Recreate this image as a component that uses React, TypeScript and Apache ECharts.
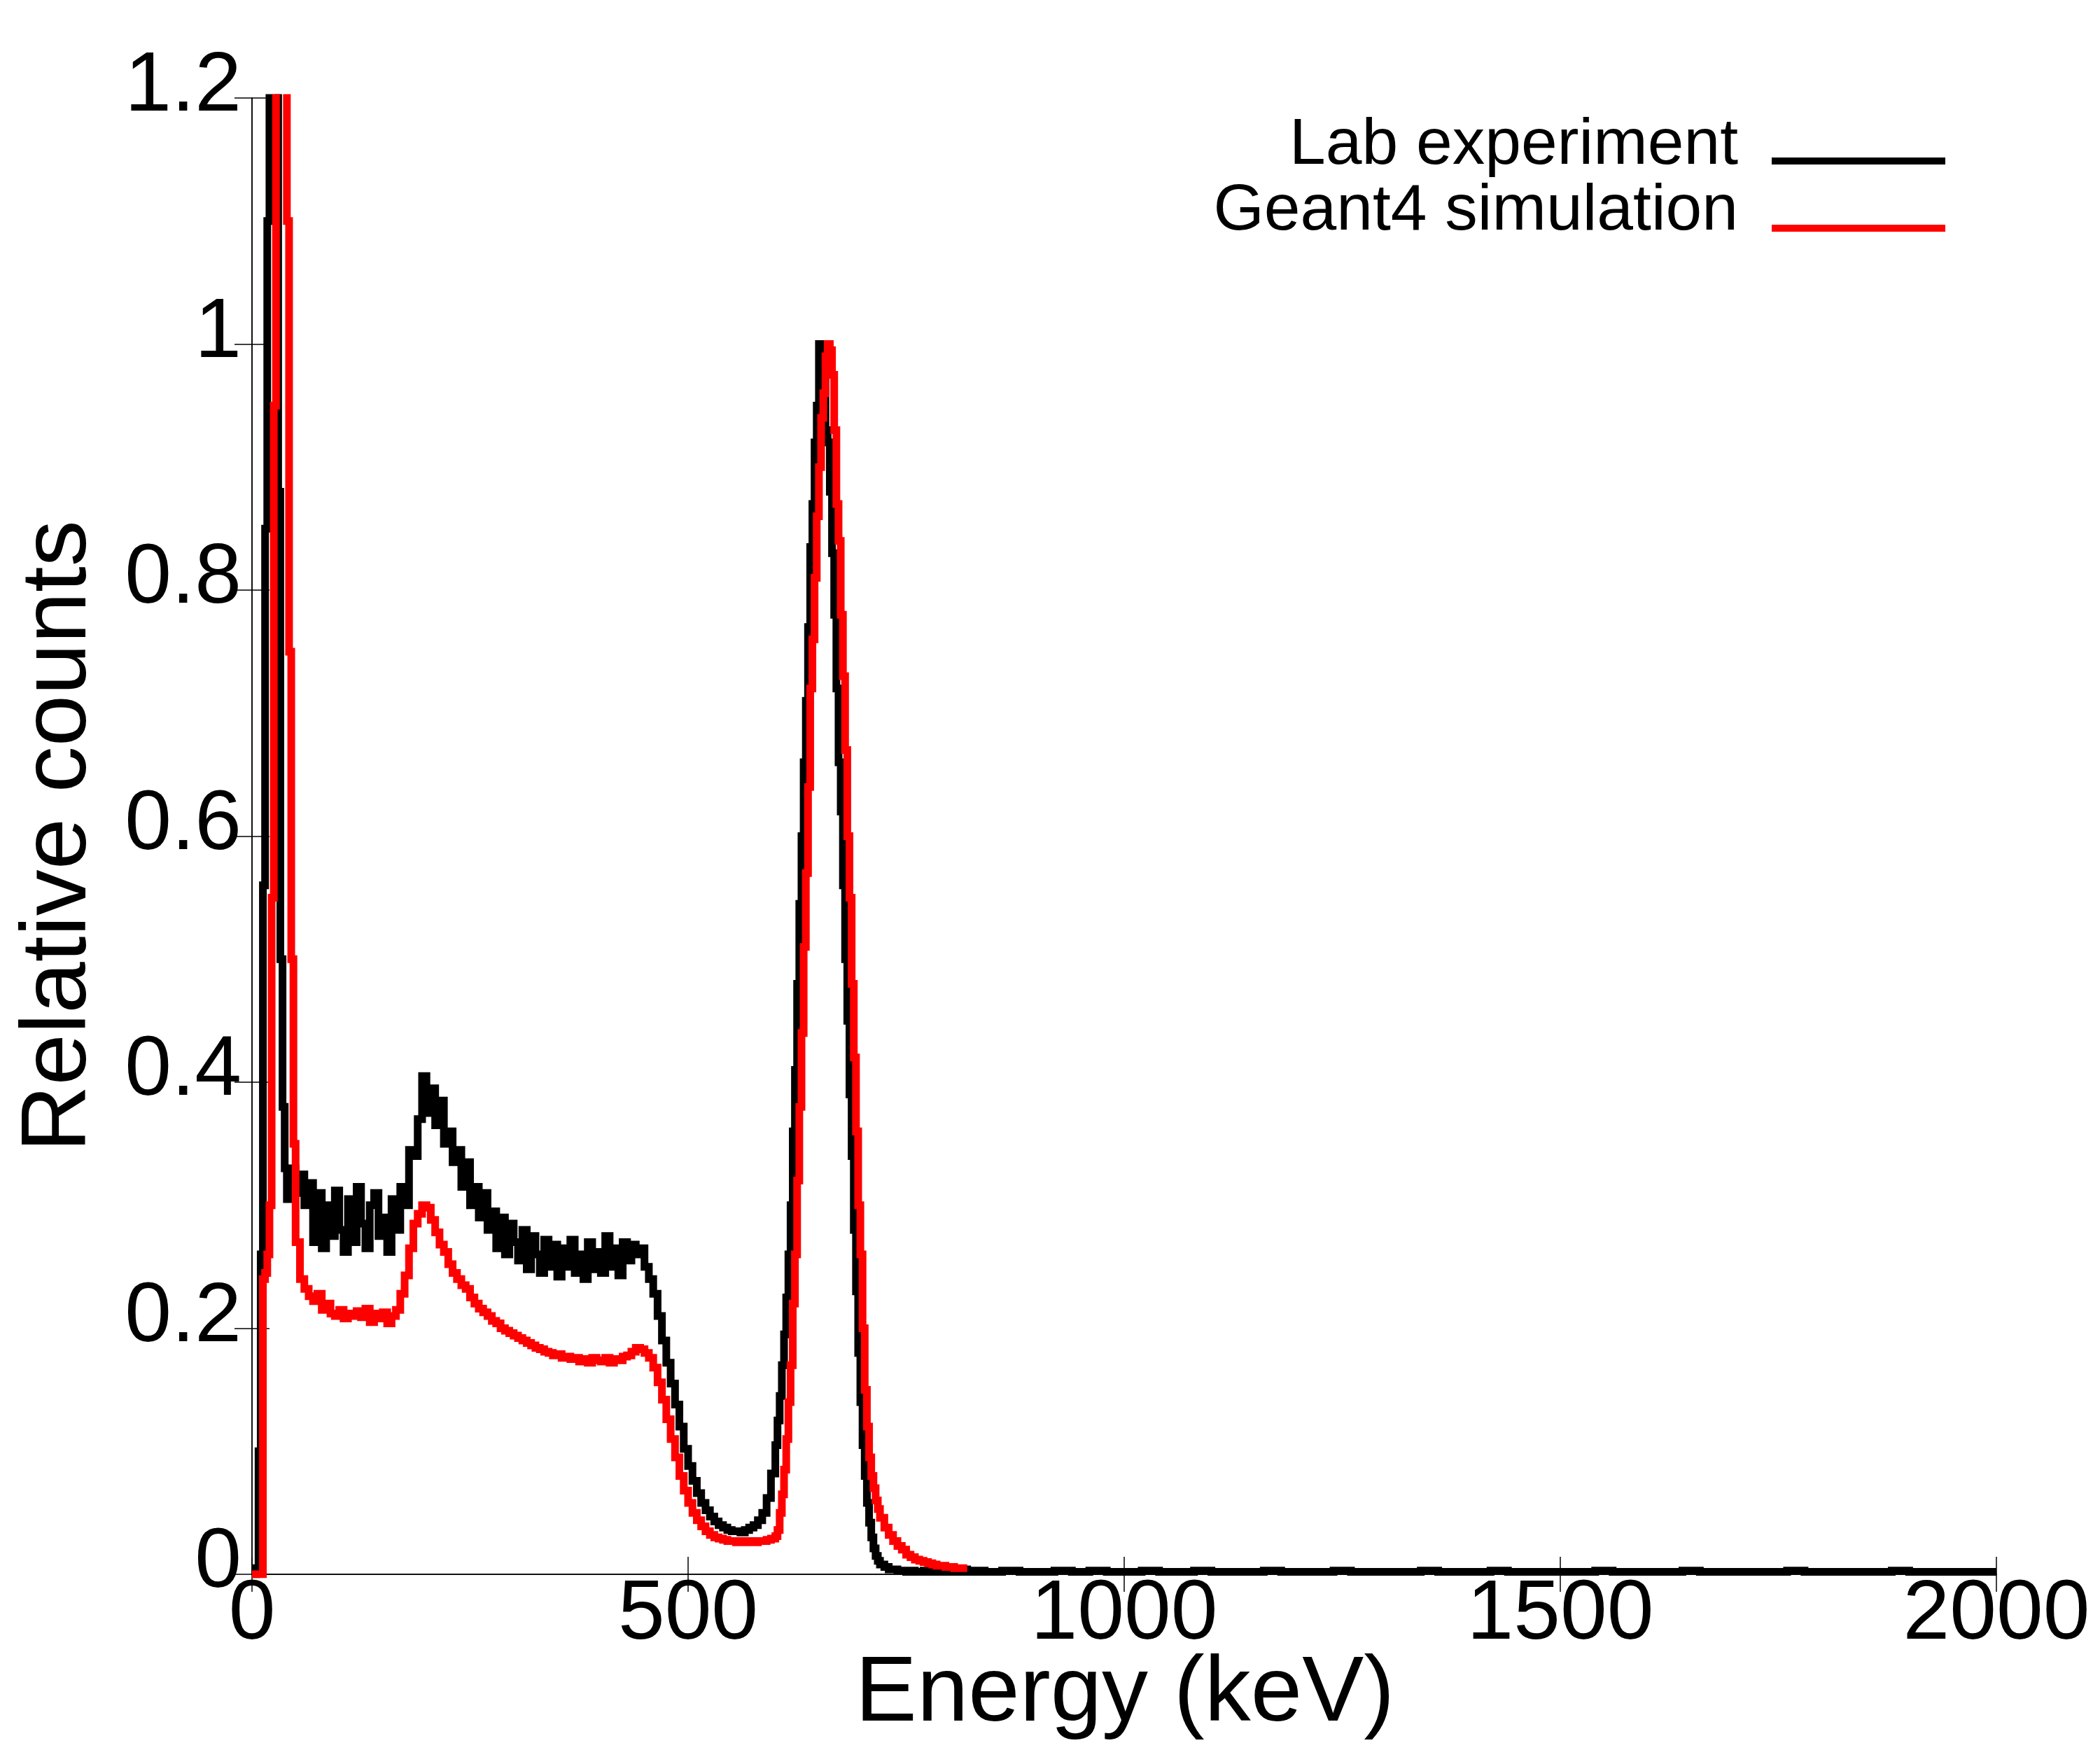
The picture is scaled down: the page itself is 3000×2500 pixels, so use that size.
import React, { useEffect, useRef } from "react";
import * as echarts from "echarts";

// ---- Data (relative counts per energy bin) ----
// Low-energy region: bins of 2.5 keV from 0 keV
const LOW_START_KEV = 0;
const LOW_BIN_KEV = 2.5;
const LAB_LOW = [
  0, 0, 0.005, 0.1, 0.26, 0.56, 0.85, 1.1, 1.6, 2.0,
  1.8, 1.25, 0.88, 0.5, 0.38, 0.33, 0.305, 0.325, 0.31, 0.33,
];
const SIM_LOW = [
  0, 0, 0, 0, 0, 0.24, 0.245, 0.26, 0.3, 0.55,
  0.95, 1.8, 2.5, 2.5, 2.2, 1.8, 1.1, 0.75, 0.5, 0.35,
];

// Compton region: bins of 5 keV from 50 keV to 600 keV
const MID_START_KEV = 50;
const MID_BIN_KEV = 5;
const LAB_MID = [
  // 50 - 95
  0.31, 0.325, 0.3, 0.318, 0.27, 0.31, 0.265, 0.3, 0.275, 0.312,
  // 100 - 145
  0.28, 0.262, 0.305, 0.27, 0.315, 0.285, 0.265, 0.3, 0.31, 0.275,
  // 150 - 195
  0.29, 0.262, 0.305, 0.28, 0.315, 0.3, 0.345, 0.34, 0.37, 0.405,
  // 200 - 245
  0.375, 0.395, 0.365, 0.385, 0.35, 0.36, 0.335, 0.345, 0.315, 0.335,
  // 250 - 295
  0.3, 0.315, 0.29, 0.31, 0.28, 0.295, 0.265, 0.29, 0.26, 0.285,
  // 300 - 345
  0.27, 0.255, 0.28, 0.248, 0.275, 0.26, 0.245, 0.272, 0.25, 0.268,
  // 350 - 395
  0.242, 0.265, 0.25, 0.272, 0.245, 0.26, 0.24, 0.27, 0.248, 0.262,
  // 400 - 445
  0.245, 0.275, 0.25, 0.265, 0.243, 0.27, 0.255, 0.268, 0.26, 0.265,
  // 450 - 495
  0.25, 0.24, 0.228, 0.21, 0.19, 0.172, 0.155, 0.138, 0.12, 0.102,
  // 500 - 545
  0.088, 0.076, 0.066, 0.058, 0.052, 0.047, 0.043, 0.04, 0.038, 0.036,
  // 550 - 595
  0.035, 0.035, 0.034, 0.036, 0.038, 0.04, 0.044, 0.05, 0.062, 0.082,
];
const SIM_MID = [
  // 50 - 95
  0.27, 0.24, 0.232, 0.226, 0.222, 0.228, 0.215, 0.22, 0.212, 0.21,
  // 100 - 145
  0.215, 0.208, 0.212, 0.21, 0.214, 0.209, 0.216, 0.205, 0.212, 0.208,
  // 150 - 195
  0.213, 0.204, 0.21, 0.215, 0.228, 0.243, 0.265, 0.285, 0.293, 0.3,
  // 200 - 245
  0.298, 0.288, 0.278, 0.268, 0.262, 0.252, 0.245, 0.24, 0.235, 0.232,
  // 250 - 295
  0.225, 0.22, 0.216, 0.213, 0.21, 0.206, 0.204, 0.2, 0.198, 0.196,
  // 300 - 345
  0.194, 0.192, 0.19, 0.188, 0.186, 0.184, 0.183, 0.181, 0.18, 0.178,
  // 350 - 395
  0.179, 0.176, 0.177, 0.175, 0.176, 0.173, 0.175, 0.172, 0.176, 0.174,
  // 400 - 445
  0.173, 0.176, 0.172, 0.175, 0.174, 0.177, 0.178, 0.181, 0.184, 0.183,
  // 450 - 495
  0.18, 0.176, 0.168, 0.156, 0.142, 0.126, 0.11, 0.095, 0.08, 0.068,
  // 500 - 545
  0.058, 0.05, 0.044, 0.039, 0.035, 0.032, 0.03, 0.029, 0.028, 0.027,
  // 550 - 595
  0.027, 0.026, 0.027, 0.026, 0.027, 0.026, 0.027, 0.027, 0.028, 0.029,
];

// Photopeak region: bins of 2.5 keV from 600 keV to 720 keV
const PEAK_START_KEV = 600;
const PEAK_BIN_KEV = 2.5;
const LAB_PEAK = [
  0.105, 0.125, 0.145, 0.17, 0.195, 0.225, 0.26, 0.3, 0.36, 0.41,
  0.48, 0.545, 0.6, 0.66, 0.71, 0.77, 0.835, 0.87, 0.92, 0.95,
  1.0, 1.0, 0.99, 0.93, 0.92, 0.88, 0.83, 0.78, 0.72, 0.66,
  0.62, 0.56, 0.5, 0.45, 0.39, 0.34, 0.28, 0.23, 0.18, 0.14,
  0.105, 0.08, 0.058, 0.042, 0.03, 0.021, 0.015, 0.011,
];
const SIM_PEAK = [
  0.031, 0.036, 0.05, 0.065, 0.085, 0.11, 0.14, 0.17, 0.22, 0.26,
  0.32, 0.38, 0.44, 0.51, 0.57, 0.64, 0.72, 0.76, 0.81, 0.86,
  0.9, 0.94, 0.96, 0.99, 1.0, 0.995, 0.975, 0.93, 0.87, 0.84,
  0.78, 0.73, 0.67, 0.6, 0.55, 0.48, 0.42, 0.36, 0.3, 0.26,
  0.2, 0.15, 0.12, 0.095, 0.08, 0.07, 0.06, 0.053,
];

// After the photopeak: bins of 5 keV from 720 keV
const POST_START_KEV = 720;
const POST_BIN_KEV = 5;
const LAB_POST = [
  0.008, 0.006, 0.004, 0.004, 0.003, 0.003, 0.002, 0.003, 0.002, 0.002,
  0.003, 0.002, 0.002, 0.003, 0.002, 0.002, 0.003, 0.002, 0.002, 0.004,
  0.002, 0.003, 0.002, 0.003,
];
const SIM_POST = [
  0.046, 0.038, 0.032, 0.027, 0.023, 0.02, 0.016, 0.014, 0.012, 0.011,
  0.01, 0.009, 0.008, 0.007, 0.007, 0.006, 0.006, 0.005, 0.005, 0.005,
];

// High-energy tail (lab only): bins of 20 keV from 840 keV to 2000 keV
const TAIL_START_KEV = 840;
const TAIL_BIN_KEV = 20;
const LAB_TAIL = [
  0.002, 0.003, 0.002, 0.002, 0.003, 0.002, 0.003, 0.002, 0.002, 0.003,
  0.002, 0.002, 0.003, 0.002, 0.002, 0.002, 0.003, 0.002, 0.002, 0.002,
  0.003, 0.002, 0.002, 0.002, 0.002, 0.003, 0.002, 0.002, 0.002, 0.003,
  0.002, 0.002, 0.002, 0.002, 0.002, 0.003, 0.002, 0.002, 0.002, 0.002,
  0.003, 0.002, 0.002, 0.002, 0.002, 0.002, 0.003, 0.002, 0.002, 0.002,
  0.002, 0.002, 0.003, 0.002, 0.002, 0.002, 0.002, 0.002,
];

const SERIES_NAMES = ["Lab experiment", "Geant4 simulation"];
const SERIES_COLORS = ["#000000", "#ff0000"];
const X_TICKS = [0, 500, 1000, 1500, 2000];
const Y_TICKS = [0, 0.2, 0.4, 0.6, 0.8, 1, 1.2];
const X_TITLE = "Energy (keV)";
const Y_TITLE = "Relative counts";

type Segment = { start: number; width: number; values: number[] };

function toHistogram(segments: Segment[]): number[][] {
  const pts: number[][] = [];
  let lastEdge = 0;
  let lastVal = 0;
  for (const seg of segments) {
    seg.values.forEach((v, i) => {
      pts.push([seg.start + i * seg.width, v]);
      lastVal = v;
    });
    lastEdge = seg.start + seg.values.length * seg.width;
  }
  pts.push([lastEdge, lastVal]);
  return pts;
}

const FONT = "'Liberation Sans', Arial, Helvetica, sans-serif";

export default function App() {
  const ref = useRef<HTMLDivElement>(null);

  useEffect(() => {
    document.body.style.margin = "0";
    if (!ref.current) return;
    const chart = echarts.init(ref.current, undefined, { renderer: "svg" });

    const labData = toHistogram([
      { start: LOW_START_KEV, width: LOW_BIN_KEV, values: LAB_LOW },
      { start: MID_START_KEV, width: MID_BIN_KEV, values: LAB_MID },
      { start: PEAK_START_KEV, width: PEAK_BIN_KEV, values: LAB_PEAK },
      { start: POST_START_KEV, width: POST_BIN_KEV, values: LAB_POST },
      { start: TAIL_START_KEV, width: TAIL_BIN_KEV, values: LAB_TAIL },
    ]);
    const simData = toHistogram([
      { start: LOW_START_KEV, width: LOW_BIN_KEV, values: SIM_LOW },
      { start: MID_START_KEV, width: MID_BIN_KEV, values: SIM_MID },
      { start: PEAK_START_KEV, width: PEAK_BIN_KEV, values: SIM_PEAK },
      { start: POST_START_KEV, width: POST_BIN_KEV, values: SIM_POST },
    ]);

    const xMin = X_TICKS[0];
    const xMax = X_TICKS[X_TICKS.length - 1];
    const xInt = X_TICKS[1] - X_TICKS[0];
    const yMin = Y_TICKS[0];
    const yMax = Y_TICKS[Y_TICKS.length - 1];
    const yInt = 0.2;

    const axisLine = { show: true, lineStyle: { color: "#000", width: 1.5 } };
    const axisTick = { show: true, inside: true, length: 25, lineStyle: { color: "#000", width: 1.5 } };

    const legendRows = [
      { y: 202, lineY: 230 },
      { y: 296, lineY: 326 },
    ];

    const lineW = 11;

    chart.setOption({
      animation: false,
      backgroundColor: "#fff",
      grid: { left: 360, top: 140, right: 148, bottom: 251, containLabel: false },
      xAxis: [
        {
          type: "value",
          min: xMin,
          max: xMax,
          interval: xInt,
          position: "bottom",
          axisLine,
          axisTick,
          splitLine: { show: false },
          axisLabel: {
            fontFamily: FONT,
            fontSize: 120,
            lineHeight: 96,
            color: "#000",
            margin: 2,
            formatter: (v: number) => String(v),
          },
        },
        {
          type: "value",
          min: xMin,
          max: xMax,
          interval: xInt,
          position: "top",
          axisLine,
          axisTick,
          splitLine: { show: false },
          axisLabel: { show: false },
        },
      ],
      yAxis: [
        {
          type: "value",
          min: yMin,
          max: yMax,
          interval: yInt,
          position: "left",
          name: Y_TITLE,
          nameLocation: "middle",
          nameGap: 218,
          nameTextStyle: { fontFamily: FONT, fontSize: 132, color: "#000" },
          axisLine,
          axisTick,
          splitLine: { show: false },
          axisLabel: {
            fontFamily: FONT,
            fontSize: 120,
            lineHeight: 48,
            verticalAlign: "bottom",
            color: "#000",
            margin: 15,
            formatter: (v: number) => String(v),
          },
        },
        {
          type: "value",
          min: yMin,
          max: yMax,
          interval: yInt,
          position: "right",
          axisLine,
          axisTick,
          splitLine: { show: false },
          axisLabel: { show: false },
        },
      ],
      series: [
        {
          name: SERIES_NAMES[0],
          type: "line",
          step: "end",
          data: labData,
          showSymbol: false,
          symbol: "none",
          clip: true,
          lineStyle: { color: SERIES_COLORS[0], width: lineW, cap: "butt", join: "miter" },
          itemStyle: { color: SERIES_COLORS[0] },
          z: 2,
        },
        {
          name: SERIES_NAMES[1],
          type: "line",
          step: "end",
          data: simData,
          showSymbol: false,
          symbol: "none",
          clip: true,
          lineStyle: { color: SERIES_COLORS[1], width: lineW, cap: "butt", join: "miter" },
          itemStyle: { color: SERIES_COLORS[1] },
          z: 3,
        },
      ],
      graphic: [
        {
          type: "text",
          x: 1607,
          y: 2412,
          style: {
            text: X_TITLE,
            fontFamily: FONT,
            fontSize: 132,
            lineHeight: 100,
            fill: "#000",
            align: "center",
            verticalAlign: "middle",
          },
          z: 10,
        },
        ...SERIES_NAMES.flatMap((name, i) => [
          {
            type: "text",
            x: 2483,
            y: legendRows[i].y,
            style: {
              text: name,
              fontFamily: FONT,
              fontSize: 93,
              fill: "#000",
              align: "right",
              verticalAlign: "middle",
            },
            z: 10,
          },
          {
            type: "line",
            shape: { x1: 2531, y1: legendRows[i].lineY, x2: 2779, y2: legendRows[i].lineY },
            style: { stroke: SERIES_COLORS[i], lineWidth: 10 },
            z: 10,
          },
        ]),
      ],
    });

    return () => {
      chart.dispose();
    };
  }, []);

  return <div ref={ref} style={{ width: 3000, height: 2500 }} />;
}
